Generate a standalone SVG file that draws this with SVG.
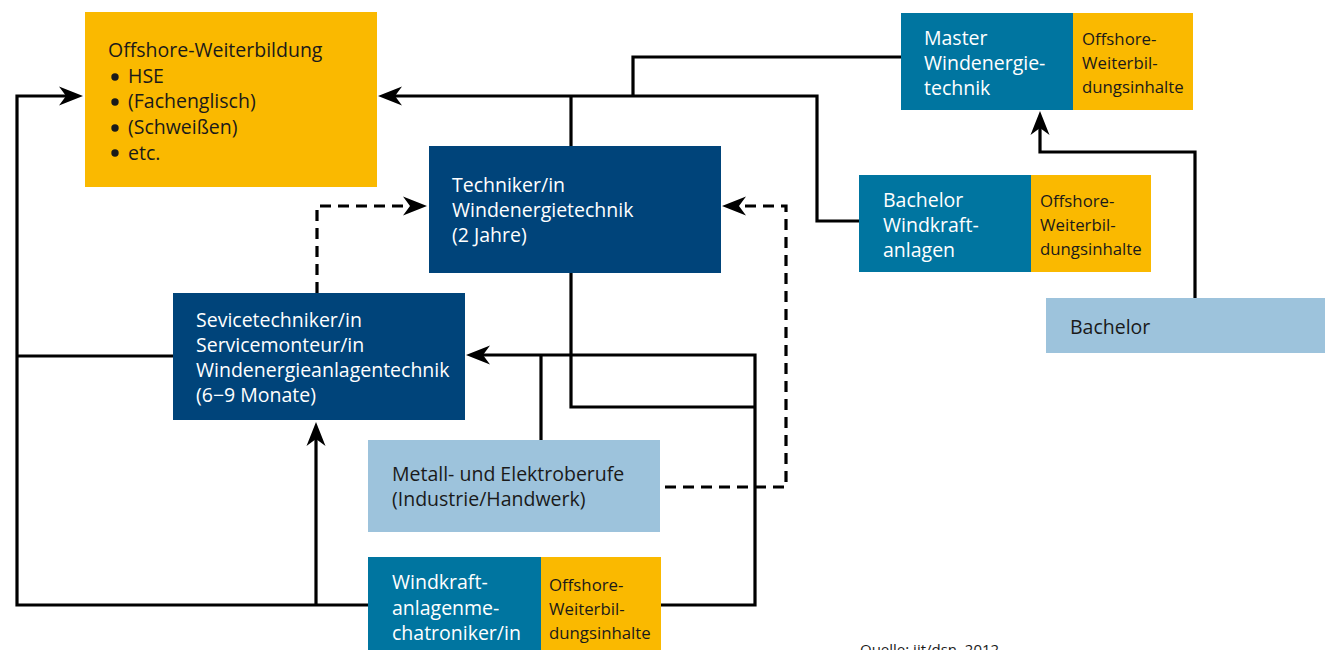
<svg xmlns="http://www.w3.org/2000/svg" width="1325" height="650" viewBox="0 0 1325 650">
<style>
.yel{fill:#FAB900}
.dark{fill:#00447A}
.teal{fill:#0075A0}
.light{fill:#9DC3DC}
text{font-family:"Open Sans","Noto Sans","Liberation Sans",sans-serif;font-size:19.5px}
.w{fill:#ffffff}
.k{fill:#1a1a1a}
.sm{font-size:16.8px}
.ln{fill:none;stroke:#000;stroke-width:3.2}
.dash{stroke-dasharray:11 7}
</style>
<defs>
<marker id="ah" markerUnits="userSpaceOnUse" viewBox="0 0 24 19" markerWidth="24" markerHeight="19" refX="16" refY="9.5" orient="auto" overflow="visible">
<path d="M0,0 L24,9.5 L0,19 L7,9.5 z" fill="#000"/>
</marker>
</defs>
<g id="connectors">
<polyline class="ln" points="368,605 17,605 17,96 75,96" marker-end="url(#ah)"/>
<line class="ln" x1="17" y1="356" x2="173" y2="356"/>
<line class="ln" x1="316" y1="605" x2="316" y2="430" marker-end="url(#ah)"/>
<polyline class="ln" points="901,57 633,57 633,96"/>
<polyline class="ln" points="859,221 817,221 817,96 386,96" marker-end="url(#ah)"/>
<line class="ln" x1="571" y1="96" x2="571" y2="146"/>
<polyline class="ln" points="571,273 571,407 755,407"/>
<polyline class="ln" points="661,605 755,605 755,355 474,355" marker-end="url(#ah)"/>
<line class="ln" x1="541" y1="440" x2="541" y2="355"/>
<polyline class="ln dash" points="317,293 317,206 419,206" marker-end="url(#ah)"/>
<polyline class="ln dash" points="665,487 786,487 786,206 730,206" marker-end="url(#ah)"/>
<polyline class="ln" points="1195,298 1195,152 1040,152 1040,119" marker-end="url(#ah)"/>
</g>
<g id="offshore">
<rect class="yel" x="85" y="12" width="292" height="175"/>
<text class="k" x="108" y="57">Offshore-Weiterbildung</text>
<circle cx="115" cy="77" r="3.7" fill="#1a1a1a"/><text class="k" x="128" y="83">HSE</text>
<circle cx="115" cy="102" r="3.7" fill="#1a1a1a"/><text class="k" x="128" y="108">(Fachenglisch)</text>
<circle cx="115" cy="128" r="3.7" fill="#1a1a1a"/><text class="k" x="128" y="134">(Schweißen)</text>
<circle cx="115" cy="153" r="3.7" fill="#1a1a1a"/><text class="k" x="128" y="160">etc.</text>
</g>
<g id="techniker">
<rect class="dark" x="429" y="146" width="292" height="127"/>
<text class="w" x="452" y="192">Techniker/in</text>
<text class="w" x="452" y="217">Windenergietechnik</text>
<text class="w" x="452" y="242">(2 Jahre)</text>
</g>
<g id="servicetechniker">
<rect class="dark" x="173" y="293" width="292" height="127"/>
<text class="w" x="196" y="327">Sevicetechniker/in</text>
<text class="w" x="196" y="352">Servicemonteur/in</text>
<text class="w" x="196" y="377">Windenergieanlagentechnik</text>
<text class="w" x="196" y="402">(6−9 Monate)</text>
</g>
<g id="metall">
<rect class="light" x="368" y="440" width="292" height="92"/>
<text class="k" x="392" y="481">Metall- und Elektroberufe</text>
<text class="k" x="392" y="506">(Industrie/Handwerk)</text>
</g>
<g id="mechatroniker">
<rect class="teal" x="368" y="557" width="173" height="95"/>
<rect class="yel" x="541" y="557" width="120" height="95"/>
<text class="w" x="392" y="589">Windkraft-</text>
<text class="w" x="392" y="615">anlagenme-</text>
<text class="w" x="392" y="640">chatroniker/in</text>
<text class="k sm" x="549" y="591">Offshore-</text>
<text class="k sm" x="549" y="615">Weiterbil-</text>
<text class="k sm" x="549" y="639">dungsinhalte</text>
</g>
<g id="master">
<rect class="teal" x="901" y="13" width="172" height="97"/>
<rect class="yel" x="1073" y="13" width="120" height="97"/>
<text class="w" x="924" y="45">Master</text>
<text class="w" x="924" y="70">Windenergie-</text>
<text class="w" x="924" y="95">technik</text>
<text class="k sm" x="1082" y="45">Offshore-</text>
<text class="k sm" x="1082" y="69">Weiterbil-</text>
<text class="k sm" x="1082" y="93">dungsinhalte</text>
</g>
<g id="bachelor-wka">
<rect class="teal" x="859" y="175" width="172" height="97"/>
<rect class="yel" x="1031" y="175" width="120" height="97"/>
<text class="w" x="883" y="207">Bachelor</text>
<text class="w" x="883" y="232">Windkraft-</text>
<text class="w" x="883" y="257">anlagen</text>
<text class="k sm" x="1040" y="207">Offshore-</text>
<text class="k sm" x="1040" y="231">Weiterbil-</text>
<text class="k sm" x="1040" y="255">dungsinhalte</text>
</g>
<g id="bachelor">
<rect class="light" x="1046" y="298" width="279" height="55"/>
<text class="k" x="1070" y="334">Bachelor</text>
</g>
<text class="k" x="860" y="655" style="font-size:15px">Quelle: iit/dsn, 2012</text>
</svg>
